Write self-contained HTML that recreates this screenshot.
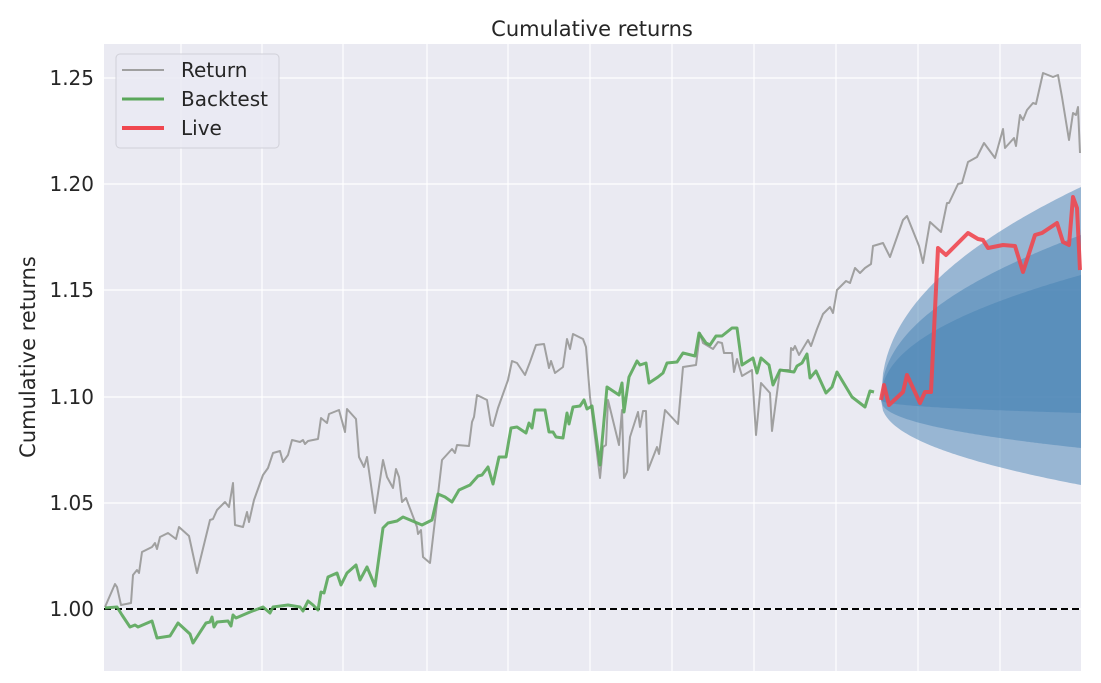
<!DOCTYPE html>
<html><head><meta charset="utf-8"><style>
body{margin:0;background:#fff;}
svg{display:block;font-family:"DejaVu Sans","Liberation Sans",sans-serif;}
</style></head><body>
<svg id="s" width="1101" height="683" viewBox="0 0 1101 683">
<rect x="104" y="44" width="977" height="627" fill="#EAEAF2"/>
<g stroke="#fff" stroke-width="1.2">
<line x1="104" x2="1081" y1="78" y2="78"/><line x1="104" x2="1081" y1="184" y2="184"/>
<line x1="104" x2="1081" y1="290" y2="290"/><line x1="104" x2="1081" y1="397" y2="397"/>
<line x1="104" x2="1081" y1="503" y2="503"/><line x1="104" x2="1081" y1="609" y2="609"/>
<line y1="44" y2="671" x1="181" x2="181"/><line y1="44" y2="671" x1="262" x2="262"/>
<line y1="44" y2="671" x1="343" x2="343"/><line y1="44" y2="671" x1="427" x2="427"/>
<line y1="44" y2="671" x1="508" x2="508"/><line y1="44" y2="671" x1="590" x2="590"/>
<line y1="44" y2="671" x1="672" x2="672"/><line y1="44" y2="671" x1="754" x2="754"/>
<line y1="44" y2="671" x1="836" x2="836"/><line y1="44" y2="671" x1="918" x2="918"/>
<line y1="44" y2="671" x1="1000" x2="1000"/>
</g>
<g id="fan"></g>
<line x1="104" x2="1081" y1="609" y2="609" stroke="#000" stroke-width="2" stroke-dasharray="7,4"/>
<polyline fill="none" stroke="#a0a0a0" stroke-width="2" stroke-linejoin="round" points="105,607 115,584 117,587 121,605 131,603 133,575 137,570 139,573 142,552 152,547 155,543 157,549 160,537 168,533 176,539 179,527 189,536 197,573 210,520 213,519 217,510 225,502 229,507 233,483 235,525 243,527 247,512 249,522 254,500 263,475 268,468 273,453 280,451 283,462 288,455 292,440 300,442 303,440 305,444 308,441 318,439 321,418 327,423 329,414 339,410 345,432 347,409 356,419 359,457 364,467 367,457 375,513 383,460 387,477 393,488 396,469 399,477 402,502 406,498 417,527 418,534 421,530 423,557 430,563 442,460 452,449 455,453 457,445 469,446 472,422 474,417 477,395 487,400 491,425 493,426 498,408 508,380 512,361 517,363 525,375 530,362 536,345 544,344 549,368 551,361 555,373 563,367 567,339 570,349 573,334 583,339 586,347 590,397 600,478 603,447 606,445 608,400 619,445 622,410 624,478 627,472 630,437 638,412 640,427 643,411 646,411 648,470 657,447 659,454 665,410 678,424 683,367 696,365 700,333 703,343 713,349 718,342 722,343 724,353 732,353 734,372 737,359 742,376 752,370 756,435 761,383 770,393 772,431 780,370 790,370 791,348 793,350 795,346 799,355 808,340 811,346 817,329 823,314 830,307 833,313 837,290 840,287 846,281 850,283 855,268 860,273 865,268 871,264 873,246 883,243 890,257 903,220 907,216 919,246 923,263 930,222 941,232 947,203 949,203 958,184 962,183 968,162 977,157 984,143 995,158 1003,129 1005,148 1014,138 1016,146 1020,115 1023,120 1027,110 1033,103 1036,104 1043,73 1053,77 1058,75 1062,97 1069,140 1073,113 1076,115 1078,107 1080,153"/>
<polyline fill="none" stroke="#5aa75a" stroke-opacity="0.9" stroke-width="3" stroke-linejoin="round" points="105,608 117,607 122,615 130,627 135,625 138,627 152,621 157,638 170,636 178,623 190,634 193,643 206,623 210,622 212,617 214,627 217,622 228,621 231,626 233,615 236,618 250,612 263,607 270,613 273,607 288,605 300,607 303,611 308,601 313,605 318,610 321,592 324,593 328,577 337,573 341,585 347,573 356,565 360,580 367,567 375,586 383,528 388,523 397,521 403,517 422,525 432,520 438,494 445,497 452,502 459,490 470,485 478,476 482,475 488,467 493,484 499,457 506,457 511,428 517,427 526,433 529,423 532,428 535,410 545,410 549,432 553,432 556,437 563,438 567,413 569,424 573,407 580,406 584,400 587,409 592,406 600,465 607,387 619,395 622,383 624,412 629,377 637,361 640,365 646,363 649,383 658,377 663,373 667,363 677,362 683,353 695,356 699,333 706,343 710,345 716,336 722,336 732,328 737,328 742,365 753,358 757,373 761,358 769,365 773,385 780,370 794,372 797,366 802,363 807,354 810,378 816,371 826,393 832,387 837,372 852,397 865,407 870,391 874,392"/>
<polyline fill="none" stroke="#f0474f" stroke-opacity="0.9" stroke-width="4" stroke-linejoin="round" points="881,400 884,385 889,405 903,392 907,375 920,403 925,392 931,392 938,248 946,255 968,233 978,239 983,240 988,248 1003,245 1015,246 1023,272 1035,235 1042,233 1057,223 1063,242 1069,245 1073,197 1077,208 1080,270"/>
<rect x="116" y="54" width="163" height="94" rx="4" fill="#EAEAF2" fill-opacity="0.8" stroke="#d0d0d8"/>
<line x1="122" x2="164" y1="70" y2="70" stroke="#a0a0a0" stroke-width="2"/>
<line x1="122" x2="164" y1="99" y2="99" stroke="#5aa75a" stroke-width="3"/>
<line x1="122" x2="164" y1="128" y2="128" stroke="#f0474f" stroke-width="4"/>
<g font-size="20" fill="#262626">
<text x="181" y="77">Return</text><text x="181" y="106">Backtest</text><text x="181" y="135">Live</text>
</g>
<g font-size="20" fill="#262626" text-anchor="end">
<text x="94" y="85">1.25</text><text x="94" y="191">1.20</text><text x="94" y="297">1.15</text>
<text x="94" y="404">1.10</text><text x="94" y="510">1.05</text><text x="94" y="616">1.00</text>
</g>
<text x="592" y="36" font-size="21" fill="#262626" text-anchor="middle">Cumulative returns</text>
<text transform="translate(35,357) rotate(-90)" font-size="21" fill="#262626" text-anchor="middle">Cumulative returns</text>
</svg>
<script>
var g=document.getElementById('fan');
var bands=[[213,85],[165,48],[125,13]];
bands.forEach(function(b){
 var top=[],bot=[];
 for(var x=881;x<=1081;x+=2){var s=Math.pow((x-881)/200,0.45);
  top.push(x+','+(400-b[0]*s).toFixed(1));bot.unshift(x+','+(400+b[1]*s).toFixed(1));}
 var p=document.createElementNS('http://www.w3.org/2000/svg','polygon');
 p.setAttribute('points',top.concat(bot).join(' '));
 p.setAttribute('fill','#4682b4');p.setAttribute('fill-opacity','0.5');
 g.appendChild(p);
});
</script>
</body></html>
